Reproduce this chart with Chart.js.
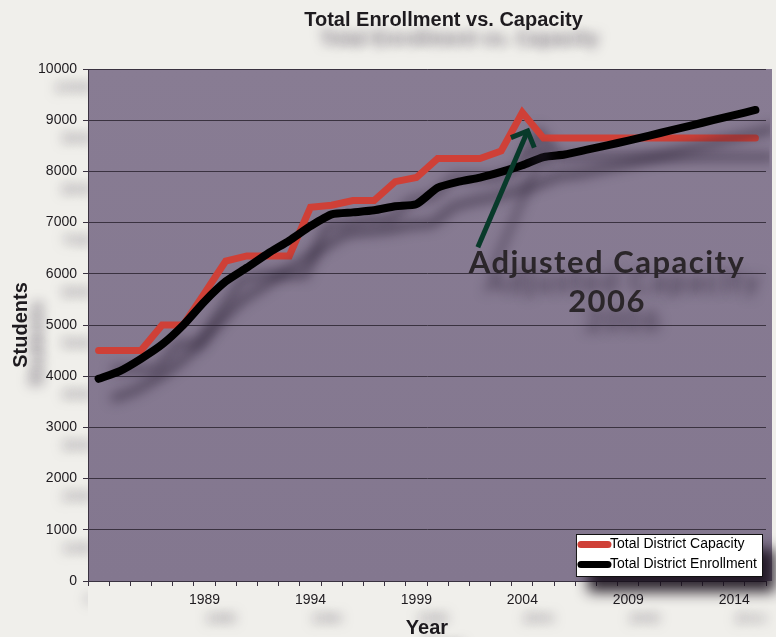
<!DOCTYPE html>
<html>
<head>
<meta charset="utf-8">
<title>Total Enrollment vs. Capacity</title>
<script src="https://cdn.jsdelivr.net/npm/chart.js@4.4.1/dist/chart.umd.min.js"></script>
<style>
  html, body { margin: 0; padding: 0; background: #f0efeb; }
  canvas { display: block; }
</style>
</head>
<body>
<canvas id="chart" width="776" height="637"></canvas>
<script>
// School years on the category axis
const years = [
  '1984', '1985', '1986', '1987', '1988', '1989', '1990', '1991',
  '1992', '1993', '1994', '1995', '1996', '1997', '1998', '1999',
  '2000', '2001', '2002', '2003', '2004', '2005', '2006', '2007',
  '2008', '2009', '2010', '2011', '2012', '2013', '2014', '2015',
];

// Only every fifth year gets a label (1984 is left blank)
const labeledYears = ['1989', '1994', '1999', '2004', '2009', '2014'];

const capacity = [
  4500, 4500, 4500, 5000, 5000, 5620, 6250, 6350,
  6350, 6350, 7300, 7340, 7430, 7430, 7800, 7880,
  8250, 8250, 8250, 8400, 9150, 8650, 8650, 8650,
  8650, 8650, 8650, 8650, 8650, 8650, 8650, 8650,
];

const enrollment = [
  3950, 4100, 4340, 4620, 5000, 5460, 5850, 6120,
  6400, 6650, 6930, 7160, 7200, 7240, 7320, 7360,
  7680, 7800, 7880, 7990, 8120, 8280, 8330, 8420,
  8510, 8600, 8700, 8800, 8900, 9000, 9100, 9200,
];

const yMin = 0;
const yMax = 10000;
const yStep = 1000;

// Callout for the 2006 capacity adjustment, in [year, students]
const noteLines = ['Adjusted Capacity', '2006'];
const noteYear = 2008;
const noteBaselines = [6010, 5250];
const arrowTail = [2001.9, 6520];
const arrowTip = [2004.25, 8790];

const FONT = '"Liberation Sans", Arial, Helvetica, sans-serif';
const INK = '#1e1b1f';
const GRID = '#3a3240';

Chart.defaults.font.family = FONT;
Chart.defaults.color = INK;

function toPixel(chart, year, value) {
  return {
    x: chart.scales.x.getPixelForValue(year - Number(years[0])),
    y: chart.scales.y.getPixelForValue(value),
  };
}

// grid lines and axis borders are drawn flat, without the drop shadow
function flatten(scale, method) {
  const draw = scale[method];
  scale[method] = function (...args) {
    const ctx = this.ctx;
    ctx.save();
    ctx.shadowColor = 'transparent';
    draw.apply(this, args);
    ctx.restore();
  };
}

function drawCallout(chart) {
  const { ctx } = chart;
  const tail = toPixel(chart, arrowTail[0], arrowTail[1]);
  const tip = toPixel(chart, arrowTip[0], arrowTip[1]);
  const back = Math.atan2(tail.y - tip.y, tail.x - tip.x);
  const barb = 18;
  const spread = Math.PI / 4;

  ctx.save();
  ctx.strokeStyle = '#083a2a';
  ctx.lineWidth = 5;
  ctx.beginPath();
  ctx.moveTo(tail.x, tail.y);
  ctx.lineTo(tip.x, tip.y);
  ctx.stroke();
  ctx.beginPath();
  ctx.moveTo(tip.x + barb * Math.cos(back + spread), tip.y + barb * Math.sin(back + spread));
  ctx.lineTo(tip.x, tip.y);
  ctx.lineTo(tip.x + barb * Math.cos(back - spread), tip.y + barb * Math.sin(back - spread));
  ctx.stroke();

  ctx.fillStyle = '#2b262a';
  ctx.font = 'bold 31px Lato, "Open Sans", sans-serif';
  ctx.letterSpacing = '1.5px';
  ctx.textAlign = 'center';
  ctx.textBaseline = 'alphabetic';
  noteLines.forEach((line, i) => {
    const p = toPixel(chart, noteYear, noteBaselines[i]);
    ctx.fillText(line, p.x, p.y);
  });
  ctx.restore();
}

function drawLegend(chart) {
  const { ctx, chartArea: area } = chart;
  const items = chart.data.datasets;
  const sample = 32;
  const rowHeight = 20;

  ctx.save();
  ctx.font = '14px ' + FONT;
  const textWidth = Math.max(...items.map((d) => ctx.measureText(d.label).width));
  const w = sample + 2 + textWidth + 6;
  const h = items.length * rowHeight + 3;
  const right = area.right - 3;
  const bottom = area.bottom - 4;
  const left = right - w;
  const top = bottom - h;

  ctx.shadowColor = 'rgba(24, 16, 28, 0.9)';
  ctx.shadowBlur = 14;
  ctx.shadowOffsetX = 12;
  ctx.shadowOffsetY = 15;
  ctx.fillStyle = '#ffffff';
  ctx.fillRect(left, top, w, h);
  ctx.shadowColor = 'transparent';

  ctx.strokeStyle = '#111111';
  ctx.lineWidth = 1;
  ctx.strokeRect(left + 0.5, top + 0.5, w - 1, h - 1);

  items.forEach((d, i) => {
    const y = top + 10.5 + i * rowHeight;
    ctx.strokeStyle = d.borderColor;
    ctx.lineWidth = 7;
    ctx.lineCap = 'round';
    ctx.beginPath();
    ctx.moveTo(left + 5, y);
    ctx.lineTo(left + sample, y);
    ctx.stroke();
    ctx.fillStyle = '#000000';
    ctx.textAlign = 'left';
    ctx.textBaseline = 'middle';
    ctx.fillText(d.label, left + sample + 2, y);
  });
  ctx.restore();
}

// Plot fill, soft drop shadow under text and lines, then callout and legend
const slideEffects = {
  id: 'slideEffects',
  afterLayout(chart) {
    // title sits centred over the plot rather than the canvas
    chart.titleBlock.left += 121;
    Object.values(chart.scales).forEach((scale) => {
      if (!scale._flat) {
        flatten(scale, 'drawGrid');
        flatten(scale, 'drawBorder');
        scale._flat = true;
      }
    });
  },
  beforeDraw(chart) {
    const { ctx, chartArea: a } = chart;
    const g = ctx.createLinearGradient(0, a.top, 0, a.bottom);
    g.addColorStop(0, '#887c93');
    g.addColorStop(1, '#83778f');
    ctx.save();
    ctx.fillStyle = g;
    ctx.fillRect(a.left, a.top, a.right - a.left + 6, a.bottom - a.top);
    ctx.restore();

    ctx.save();
    ctx.shadowColor = 'rgba(46, 36, 56, 0.6)';
    ctx.shadowBlur = 12;
    ctx.shadowOffsetX = 16;
    ctx.shadowOffsetY = 19;
  },
  afterDraw(chart) {
    drawCallout(chart);
    chart.ctx.restore();
    drawLegend(chart);
  },
};

new Chart(document.getElementById('chart'), {
  type: 'line',
  data: {
    labels: years,
    datasets: [
      {
        label: 'Total District Capacity',
        data: capacity,
        borderColor: '#cf4037',
        borderWidth: 7,
        borderCapStyle: 'round',
        pointRadius: 0,
        tension: 0,
        order: 1,
      },
      {
        label: 'Total District Enrollment',
        data: enrollment,
        borderColor: '#000000',
        borderWidth: 8,
        borderCapStyle: 'round',
        borderJoinStyle: 'round',
        pointRadius: 0,
        tension: 0.2,
        order: 0,
      },
    ],
  },
  options: {
    responsive: false,
    animation: false,
    devicePixelRatio: 1,
    events: [],
    layout: { padding: { left: 0, right: 10, top: 0, bottom: 0 } },
    plugins: {
      legend: { display: false },
      tooltip: { enabled: false },
      title: {
        display: true,
        text: 'Total Enrollment vs. Capacity',
        color: INK,
        font: { size: 20, weight: 'bold' },
        padding: { top: 8, bottom: 37 },
      },
    },
    scales: {
      x: {
        type: 'category',
        offset: true,
        grid: { offset: true, drawOnChartArea: false, color: GRID, tickLength: 5 },
        border: { color: GRID },
        ticks: {
          autoSkip: false,
          maxRotation: 0,
          padding: 6,
          color: INK,
          font: { size: 14 },
          callback(value, index) {
            const year = years[index];
            return labeledYears.includes(year) ? year : '';
          },
        },
        title: {
          display: true,
          text: 'Year',
          color: INK,
          font: { size: 20, weight: 'bold' },
          padding: { top: 0, bottom: -3 },
        },
        afterFit(scale) { scale.height = 56; },
      },
      y: {
        min: yMin,
        max: yMax,
        grid: { color: GRID, tickLength: 5 },
        border: { color: GRID },
        ticks: {
          stepSize: yStep,
          padding: 6,
          color: INK,
          font: { size: 14 },
          callback: (value) => String(value),
        },
        title: {
          display: true,
          text: 'Students',
          color: INK,
          font: { size: 20, weight: 'bold' },
          padding: { top: 9, bottom: 0 },
        },
        afterFit(scale) { scale.width = 88; },
      },
    },
  },
  plugins: [slideEffects],
});
</script>
</body>
</html>
